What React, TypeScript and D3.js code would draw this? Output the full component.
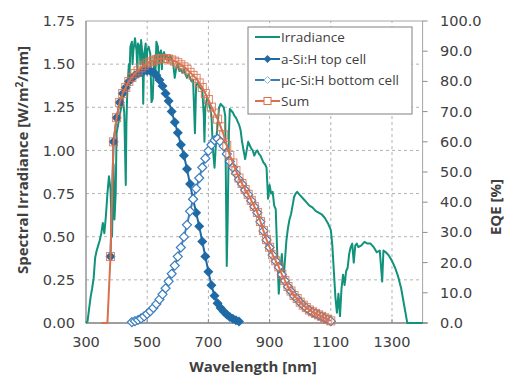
import * as d3 from 'd3';

const irradianceWl = [300, 305, 310, 315, 320, 325, 330, 335, 340, 345, 350, 355, 360, 365, 370, 375, 380, 385, 390, 393, 397, 400, 405, 410, 415, 420, 425, 430, 432, 435, 440, 442, 445, 450, 452, 455, 460, 465, 468, 470, 475, 478, 480, 485, 487, 490, 495, 498, 500, 505, 510, 514, 518, 522, 525, 527, 530, 535, 538, 540, 545, 548, 550, 555, 560, 565, 570, 575, 580, 585, 590, 595, 600, 605, 610, 615, 620, 625, 630, 635, 640, 645, 650, 656, 660, 665, 670, 675, 680, 685, 687, 690, 695, 700, 705, 710, 715, 720, 725, 730, 735, 740, 745, 750, 755, 760, 763, 767, 770, 775, 780, 785, 790, 795, 800, 805, 810, 815, 820, 825, 830, 835, 840, 845, 850, 855, 860, 865, 870, 875, 880, 885, 890, 895, 900, 905, 910, 915, 920, 925, 930, 935, 940, 945, 950, 955, 960, 965, 970, 975, 980, 985, 990, 1000, 1010, 1020, 1030, 1040, 1050, 1060, 1070, 1080, 1090, 1100, 1105, 1110, 1115, 1120, 1125, 1130, 1135, 1140, 1145, 1150, 1155, 1160, 1165, 1170, 1175, 1180, 1185, 1190, 1200, 1210, 1220, 1230, 1240, 1250, 1260, 1268, 1272, 1280, 1290, 1300, 1310, 1320, 1330, 1340, 1345, 1350, 1400];
const irradianceVal = [0, 0.01, 0.08, 0.15, 0.2, 0.26, 0.38, 0.42, 0.45, 0.48, 0.52, 0.58, 0.52, 0.62, 0.75, 0.85, 0.78, 0.5, 0.92, 0.6, 0.75, 1.1, 1.15, 1.2, 1.25, 1.3, 1.22, 0.8, 1.15, 1.35, 1.5, 1.42, 1.6, 1.63, 1.5, 1.58, 1.65, 1.58, 1.46, 1.62, 1.6, 1.5, 1.64, 1.55, 1.27, 1.55, 1.62, 1.48, 1.58, 1.6, 1.56, 1.28, 1.3, 1.5, 1.55, 1.44, 1.63, 1.6, 1.45, 1.56, 1.58, 1.47, 1.55, 1.57, 1.53, 1.55, 1.52, 1.55, 1.53, 1.5, 1.42, 1.48, 1.5, 1.46, 1.47, 1.45, 1.47, 1.44, 1.42, 1.44, 1.42, 1.4, 1.41, 1.1, 1.38, 1.39, 1.37, 1.36, 1.35, 1.2, 1.05, 1.25, 1.3, 1.29, 1.25, 1.2, 1.0, 0.9, 1.05, 1.15, 1.25, 1.27, 1.26, 1.25, 1.2, 0.33, 0.6, 1.1, 1.24, 1.23, 1.22, 1.2, 1.19, 1.17, 1.15, 1.12, 1.05, 1.0, 0.95, 1.0, 1.05, 1.03, 1.01, 1.0, 0.97, 0.99, 1.0, 0.98, 0.97, 0.95, 0.93, 0.92, 0.9, 0.72, 0.8, 0.75, 0.76, 0.68, 0.66, 0.4, 0.17, 0.3, 0.4, 0.24, 0.36, 0.48, 0.55, 0.6, 0.63, 0.68, 0.73, 0.75, 0.76, 0.74, 0.72, 0.7, 0.68, 0.67, 0.65, 0.64, 0.63, 0.61, 0.58, 0.54, 0.45, 0.3, 0.15, 0.06, 0.17, 0.04, 0.2, 0.28, 0.22, 0.3, 0.32, 0.4, 0.44, 0.46, 0.35, 0.45, 0.46, 0.44, 0.45, 0.47, 0.46, 0.46, 0.44, 0.41, 0.42, 0.24, 0.42, 0.41, 0.39, 0.36, 0.32, 0.27, 0.2, 0.1, 0.05, 0, 0];

// EQE in %, [wavelength nm, value]
const topCell: [number, number][] = [[380, 22], [390, 60], [400, 68], [410, 73], [420, 76], [430, 78], [440, 80], [450, 81], [460, 82], [470, 82.5], [480, 83], [490, 83.5], [500, 83.5], [510, 83.5], [520, 83], [530, 82], [540, 80.5], [550, 78.5], [560, 76], [570, 73.5], [580, 70], [590, 66.5], [600, 63], [610, 59], [620, 55.5], [630, 51], [640, 46], [650, 41], [660, 36.5], [670, 32], [680, 27], [690, 22], [700, 17], [710, 12.5], [720, 9], [730, 6.5], [740, 5], [750, 3.8], [760, 2.8], [770, 2], [780, 1.4], [790, 0.9], [800, 0.5]];

const bottomCell: [number, number][] = [[450, 0.3], [460, 0.6], [470, 1], [480, 1.5], [490, 2.2], [500, 3], [510, 3.9], [520, 5], [530, 6.3], [540, 7.8], [550, 9.5], [560, 11.5], [570, 13.8], [580, 16.3], [590, 19], [600, 22], [610, 25], [620, 28.5], [630, 32.5], [640, 37], [650, 41], [660, 44.5], [670, 48], [680, 51.5], [690, 54.5], [700, 57], [710, 59], [720, 60.5], [730, 61], [740, 60], [750, 58.5], [760, 56], [770, 53.5], [780, 51.5], [790, 49.5], [800, 47.5], [810, 46], [820, 44], [830, 42.5], [840, 40.5], [850, 38.5], [860, 36.5], [870, 33.5], [880, 30.5], [890, 27.5], [900, 25], [910, 22.5], [920, 20.5], [930, 18.5], [940, 16], [950, 14], [960, 12], [970, 10.5], [980, 9], [990, 8], [1000, 6.8], [1010, 5.8], [1020, 5], [1030, 4.2], [1040, 3.6], [1050, 3.1], [1060, 2.6], [1070, 2.1], [1080, 1.6], [1090, 1.1], [1100, 0.6]];

const sumCells: [number, number][] = [[350, 0], [360, 0], [370, 0], [380, 22], [390, 60], [400, 68], [410, 73], [420, 76], [430, 78], [440, 80], [450, 81.3], [460, 82.6], [470, 83.5], [480, 84.5], [490, 85.3], [500, 86], [510, 86.5], [520, 86.8], [530, 87.2], [540, 87.5], [550, 87.6], [560, 87.6], [570, 87.4], [580, 87.1], [590, 86.7], [600, 86.2], [610, 85.5], [620, 84.8], [630, 84], [640, 83], [650, 82], [660, 81], [670, 79.5], [680, 78], [690, 76], [700, 74], [710, 71.5], [720, 69.5], [730, 67.5], [740, 65], [750, 62.3], [760, 58.8], [770, 55.5], [780, 53], [790, 50.5], [800, 48], [810, 46.2], [820, 44.2], [830, 42.6], [840, 40.6], [850, 38.6], [860, 36.6], [870, 33.6], [880, 30.6], [890, 27.6], [900, 25.1], [910, 22.6], [920, 20.6], [930, 18.6], [940, 16.1], [950, 14.1], [960, 12.1], [970, 10.6], [980, 9.1], [990, 8.1], [1000, 6.9], [1010, 5.9], [1020, 5.1], [1030, 4.3], [1040, 3.7], [1050, 3.2], [1060, 2.7], [1070, 2.2], [1080, 1.7], [1090, 1.2], [1100, 0.7]];

const xTicks = [300, 500, 700, 900, 1100, 1300];
const leftTicks = [0, 0.25, 0.5, 0.75, 1.0, 1.25, 1.5, 1.75];
const rightTicks = [0, 10, 20, 30, 40, 50, 60, 70, 80, 90, 100];
const legendLabels = ['Irradiance', 'a-Si:H top cell', 'μc-Si:H bottom cell', 'Sum'];

const TEAL = '#11927a';
const DARK_BLUE = '#1f6aa5';
const BLUE = '#3a7dbf';
const ORANGE = '#d9714f';
const TEXT = '#404040';

const W = 506;
const H = 378;

export default function App() {
  const x = d3.scaleLinear().domain([300, 1400]).range([86, 422.6]);
  const yL = d3.scaleLinear().domain([0, 1.75]).range([323, 21]);
  const yR = d3.scaleLinear().domain([0, 100]).range([323, 21]);

  const irrLine = d3.line<number>()
    .x((_, i) => x(irradianceWl[i]))
    .y(d => yL(d));
  const eqeLine = d3.line<[number, number]>()
    .x(d => x(d[0]))
    .y(d => yR(d[1]));

  const diamond = (cx: number, cy: number, r: number) =>
    `M${cx},${cy - r}L${cx + r},${cy}L${cx},${cy + r}L${cx - r},${cy}Z`;

  const [x0, x1] = x.range();
  const [yb, yt] = yL.range();

  const legendX = 248;
  const legendY = 27;
  const legendRows = [37, 59, 80, 101];

  const drawSample = (i: number, cy: number) => {
    const lx0 = 255, lx1 = 280, mx = (lx0 + lx1) / 2;
    if (i === 0) return <line x1={lx0} x2={lx1} y1={cy} y2={cy} stroke={TEAL} strokeWidth={2} />;
    if (i === 1) return (
      <g>
        <line x1={lx0} x2={lx1} y1={cy} y2={cy} stroke={DARK_BLUE} strokeWidth={2} />
        <path d={diamond(mx, cy, 4)} fill={DARK_BLUE} />
      </g>
    );
    if (i === 2) return (
      <g>
        <line x1={lx0} x2={lx1} y1={cy} y2={cy} stroke={BLUE} strokeWidth={2} />
        <path d={diamond(mx, cy, 3.5)} fill="#fff" stroke="#8fb3d9" strokeWidth={1} />
      </g>
    );
    return (
      <g>
        <line x1={lx0} x2={lx1} y1={cy} y2={cy} stroke={ORANGE} strokeWidth={2} />
        <rect x={mx - 3.5} y={cy - 3.5} width={7} height={7} fill="#fff" stroke={ORANGE} strokeWidth={1} />
      </g>
    );
  };

  return (
    <svg width={W} height={H} style={{ position: 'absolute', left: 0, top: 0, background: '#fff' }}>
      <rect width={W} height={H} fill="#fff" />

      {/* grid */}
      {leftTicks.slice(1, -1).map(t => (
        <line key={'h' + t} x1={x0} x2={x1} y1={yL(t)} y2={yL(t)} stroke="#b3b3b3" strokeDasharray="3,3" />
      ))}
      {xTicks.slice(1).map(t => (
        <line key={'v' + t} x1={x(t)} x2={x(t)} y1={yb} y2={yt} stroke="#b3b3b3" strokeDasharray="3,3" />
      ))}

      {/* frame */}
      <rect x={x0} y={yt} width={x1 - x0} height={yb - yt} fill="none" stroke="#a6a6a6" />
      <line x1={x0} x2={x1 + 5} y1={yb} y2={yb} stroke="#8c8c8c" strokeWidth={1.5} />
      <line x1={x0} x2={x0} y1={yb} y2={yt} stroke="#8c8c8c" strokeWidth={1} />

      {/* right axis ticks */}
      {rightTicks.map(t => (
        <line key={'rt' + t} x1={x1} x2={x1 + 5} y1={yR(t)} y2={yR(t)} stroke="#8c8c8c" />
      ))}
      {xTicks.slice(1).map(t => (
        <line key={'xt' + t} x1={x(t)} x2={x(t)} y1={yb} y2={yb - 4} stroke="#8c8c8c" />
      ))}

      {/* series */}
      <path d={irrLine(irradianceVal) || ''} fill="none" stroke={TEAL} strokeWidth={2} strokeLinejoin="round" />

      <path d={eqeLine(topCell) || ''} fill="none" stroke={DARK_BLUE} strokeWidth={2} />
      {topCell.map(d => (
        <path key={'tc' + d[0]} d={diamond(x(d[0]), yR(d[1]), 5)} fill={DARK_BLUE} />
      ))}

      <path d={eqeLine(bottomCell) || ''} fill="none" stroke={BLUE} strokeWidth={2} />
      {bottomCell.map(d => (
        <path key={'bc' + d[0]} d={diamond(x(d[0]), yR(d[1]), 4.5)} fill="#fff" stroke={BLUE} strokeWidth={1.2} />
      ))}

      <path d={eqeLine(sumCells) || ''} fill="none" stroke={ORANGE} strokeWidth={2} />
      {sumCells.filter(d => d[1] > 0).map(d => (
        <rect key={'s' + d[0]} x={x(d[0]) - 4} y={yR(d[1]) - 4} width={8} height={8} fill="none" stroke={ORANGE} strokeWidth={1} opacity={0.85} />
      ))}

      {/* tick labels */}
      <g fontFamily="DejaVu Sans" fontSize={14.5} fill={TEXT}>
        {leftTicks.map(t => (
          <text key={'lt' + t} x={75} y={yL(t)} dy="0.35em" textAnchor="end">{t.toFixed(2)}</text>
        ))}
        {rightTicks.map(t => (
          <text key={'rl' + t} x={440} y={yR(t)} dy="0.35em" textAnchor="start">{t.toFixed(1)}</text>
        ))}
        {xTicks.map(t => (
          <text key={'xl' + t} x={x(t)} y={347} textAnchor="middle">{t}</text>
        ))}
      </g>

      {/* axis titles */}
      <g fontFamily="Open Sans" fontWeight="bold" fill={TEXT}>
        <text x={253} y={372} fontSize={15} textAnchor="middle">Wavelength [nm]</text>
        <text transform={`translate(28,160) rotate(-90)`} fontSize={15} textAnchor="middle">
          Spectral Irradiance [W/m<tspan dy="-5" fontSize={10}>2</tspan><tspan dy="5">/nm]</tspan>
        </text>
        <text transform={`translate(501,207) rotate(-90)`} fontSize={15} textAnchor="middle">EQE [%]</text>
      </g>

      {/* legend */}
      <rect x={legendX} y={legendY} width={164} height={87} fill="#fff" stroke="#808080" />
      {legendLabels.map((lab, i) => (
        <g key={lab}>
          {drawSample(i, legendRows[i])}
          <text x={281} y={legendRows[i]} dy="0.36em" fontFamily="Open Sans" fontSize={13.5} fill={TEXT}>{lab}</text>
        </g>
      ))}
    </svg>
  );
}
